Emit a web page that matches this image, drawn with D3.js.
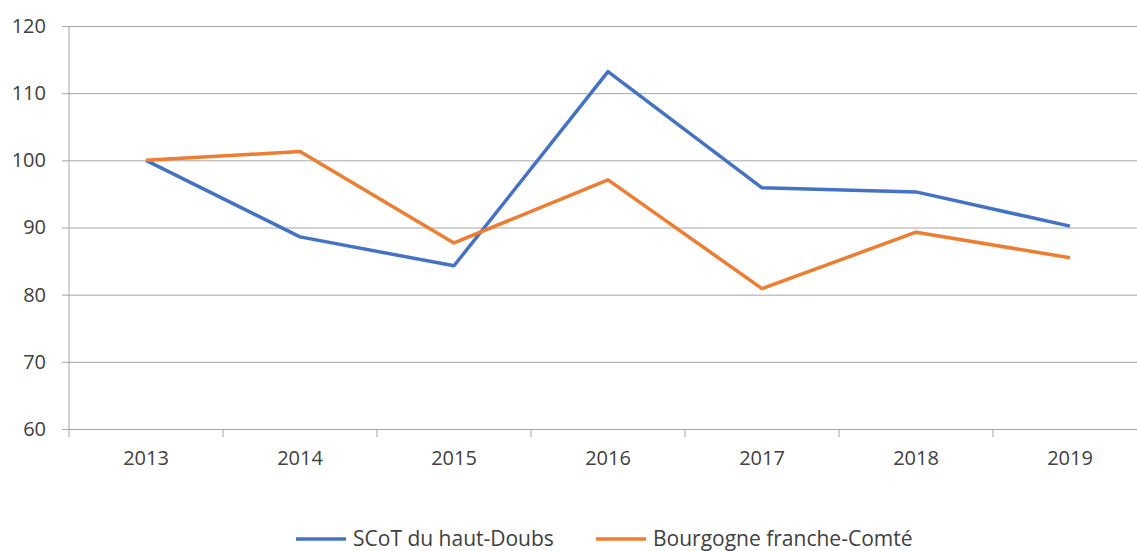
<!DOCTYPE html>
<html>
<head>
<meta charset="utf-8">
<script src="https://cdn.jsdelivr.net/npm/d3@7"></script>
<style>
  body { margin: 0; background: #fff; }
  svg { display: block; }
  svg text { font-family: "Open Sans", sans-serif; fill: #404040; }
</style>
</head>
<body>
<div id="chart"></div>
<script>
// Data
const years = ["2013", "2014", "2015", "2016", "2017", "2018", "2019"];
const scotHautDoubs = [100, 88.6, 84.3, 113.2, 95.9, 95.3, 90.2];
const bourgogneFC = [100, 101.3, 87.7, 97.1, 80.9, 89.3, 85.5];
const yTicks = [60, 70, 80, 90, 100, 110, 120];

function draw_chart() {
    const W = 1137, H = 551;
    const margin = {top: 26, left: 69, bottom: 122};
    const plotW = 1078; // runs a little past the window edge, like the source
    const plotH = H - margin.top - margin.bottom;

    const svg = d3.select("#chart").append("svg")
        .attr("width", W).attr("height", H);

    const g = svg.append("g")
        .attr("transform", `translate(${margin.left},${margin.top})`);

    const x = d3.scaleBand().domain(years).range([0, plotW]);
    const y = d3.scaleLinear().domain([60, 120]).range([plotH, 0]);

    // gridlines + y labels
    const yAxis = g.append("g")
        .call(d3.axisLeft(y).tickValues(yTicks).tickSize(-plotW).tickSizeOuter(0).tickPadding(23));
    yAxis.select(".domain").remove();
    yAxis.selectAll(".tick line")
        .attr("x1", -7)
        .attr("stroke", "#a6a6a6").attr("stroke-width", 1);
    yAxis.selectAll(".tick text")
        .style("font-size", "20px").style("font-family", "'Open Sans', sans-serif").style("fill", "#404040");

    // vertical axis line
    g.append("line")
        .attr("x1", 0).attr("x2", 0)
        .attr("y1", 0).attr("y2", plotH)
        .attr("stroke", "#a6a6a6");

    // x axis with ticks between categories
    const xAxis = g.append("g")
        .attr("transform", `translate(0,${plotH})`)
        .call(d3.axisBottom(x).tickSize(0).tickPadding(22));
    xAxis.select(".domain").attr("stroke", "#a6a6a6");
    xAxis.selectAll(".tick text")
        .style("font-size", "20px").style("font-family", "'Open Sans', sans-serif").style("fill", "#404040");

    g.append("g").selectAll("line")
        .data(years)
        .join("line")
        .attr("x1", d => x(d)).attr("x2", d => x(d))
        .attr("y1", plotH).attr("y2", plotH + 8)
        .attr("stroke", "#a6a6a6");

    const series = [
        {name: "SCoT du haut-Doubs", values: scotHautDoubs, color: "#4472c4"},
        {name: "Bourgogne franche-Comté", values: bourgogneFC, color: "#ed7d31"}
    ];

    const line = d3.line()
        .x((d, i) => x(years[i]) + x.bandwidth() / 2)
        .y(d => y(d));

    series.forEach(s => {
        g.append("path")
            .datum(s.values)
            .attr("fill", "none")
            .attr("stroke", s.color)
            .attr("stroke-width", 3.5)
            .attr("stroke-linejoin", "round")
            .attr("d", line);
    });

    // legend
    const legendX = [296, 596];
    const legend = svg.append("g").attr("transform", `translate(0, ${H - 12})`);
    series.forEach((s, i) => {
        const item = legend.append("g").attr("transform", `translate(${legendX[i]},0)`);
        item.append("line")
            .attr("x1", 0).attr("x2", 50)
            .attr("y1", 0).attr("y2", 0)
            .attr("stroke", s.color).attr("stroke-width", 3.5);
        item.append("text")
            .attr("x", 57).attr("y", 7)
            .style("font-size", "21px")
            .text(s.name);
    });
}

draw_chart();
</script>
</body>
</html>
